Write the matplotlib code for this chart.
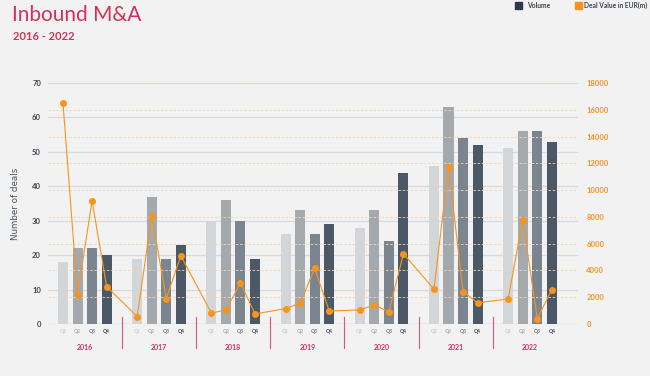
import numpy as np
import matplotlib.pyplot as plt
from matplotlib import transforms

# Dati
years = ['2016', '2017', '2018', '2019', '2020', '2021', '2022']
quarters = ['Q1', 'Q2', 'Q3', 'Q4']

# Numero di operazioni per trimestre (un elenco per trimestre, ordinato per anno)
vol_q1 = [18, 19, 30, 26, 28, 46, 51]
vol_q2 = [22, 37, 36, 33, 33, 63, 56]
vol_q3 = [22, 19, 30, 26, 24, 54, 56]
vol_q4 = [20, 23, 19, 29, 44, 52, 53]

# Valore delle operazioni in EUR(m), in ordine cronologico
deal_value = [16500, 2200, 9200, 2800,
              550, 8100, 1900, 5100,
              820, 1050, 3050, 750,
              1150, 1550, 4150, 970,
              1050, 1420, 900, 5250,
              2600, 11750, 2420, 1580,
              1870, 7800, 400, 2560]

# Stile
bg = '#f2f2f2'
crimson = '#d2325a'
orange = '#f7941d'
bar_colors = ['#d3d6d9', '#a4a9ae', '#7a8590', '#4b5866']
qlabel_colors = ['#c9cbce', '#a9adb2', '#6f7780', '#3b4450']

plt.rcParams['font.family'] = ['Lato', 'DejaVu Sans']

fig = plt.figure(figsize=(6.5, 3.76), dpi=100, facecolor=bg)
ax = fig.add_axes([48 / 650, 52 / 376, 530 / 650, 241 / 376], facecolor=bg)
ax2 = ax.twinx()

group_step = 5.1
width = 0.69
volumes = [vol_q1, vol_q2, vol_q3, vol_q4]

# Barre
for j in range(4):
    xs = [i * group_step + j for i in range(len(years))]
    ax.bar(xs, volumes[j], width=width, color=bar_colors[j], zorder=3)

# Linea del valore
x_line = [i * group_step + j for i in range(len(years)) for j in range(4)]
ax2.plot(x_line, deal_value, color=orange, lw=0.8, marker='o', ms=4,
         zorder=4, clip_on=False)

ax.set_xlim(-1.03, 35.4)
ax.set_ylim(0, 70)
ax2.set_ylim(0, 18000)

# Griglie
for v in range(10, 71, 10):
    ax.axhline(v, color='#d8dadd', lw=0.9, zorder=1)
ax.axhline(0, color='#cfd1d4', lw=1.0, zorder=1)
for v in range(2000, 18001, 2000):
    ax2.axhline(v, color='#f6d3ae', lw=0.6, ls=(0, (3, 2)), zorder=0)

ax.set_yticks(range(0, 71, 10))
ax2.set_yticks(range(0, 18001, 2000))
ax.tick_params(axis='y', length=0, pad=5, labelsize=5.5, labelcolor='#3b4450')
ax2.tick_params(axis='y', length=0, pad=6, labelsize=5.5, labelcolor=orange)
ax.set_xticks([])
for a in (ax, ax2):
    for s in a.spines.values():
        s.set_visible(False)
for lab in ax.get_yticklabels() + ax2.get_yticklabels():
    lab.set_fontweight('bold')

ax.set_ylabel('Number of deals', fontsize=6.3, color='#4b5560',
              labelpad=9, family='DejaVu Sans')

# Etichette trimestri e anni
trans = transforms.blended_transform_factory(ax.transData, ax.transAxes)
for i, yr in enumerate(years):
    for j, q in enumerate(quarters):
        ax.text(i * group_step + j, -0.022, q, transform=trans, ha='center',
                va='top', fontsize=3.6, color=qlabel_colors[j],
                fontweight='bold')
    ax.text(i * group_step + 1.5, -0.083, yr, transform=trans, ha='center',
            va='top', fontsize=5, color=crimson, fontweight='bold')
    if i < len(years) - 1:
        ax.plot([i * group_step + 4.05] * 2, [0.029, -0.1], transform=trans,
                color=crimson, lw=0.8, clip_on=False, alpha=0.8)

# Titolo
fig.text(12 / 650, 1 - 15 / 376, 'Inbound M&A', fontsize=15, color=crimson,
         fontweight='normal', va='center', ha='left')
fig.text(13 / 650, 1 - 37 / 376, '2016 - 2022', fontsize=8, color=crimson,
         fontweight='bold', va='center', ha='left')

# Legenda
fig.patches.append(plt.Rectangle((515 / 650, 1 - 9 / 376), 7 / 650, 7 / 376,
                                 transform=fig.transFigure, color='#2e3a48'))
fig.text(527 / 650, 1 - 5.5 / 376, 'Volume', fontsize=4.9, color='#3b4450',
         fontweight='bold', va='center')
fig.patches.append(plt.Rectangle((575 / 650, 1 - 9 / 376), 7 / 650, 7 / 376,
                                 transform=fig.transFigure, color=orange))
fig.text(584 / 650, 1 - 5.5 / 376, 'Deal Value in EUR(m)', fontsize=4.8,
         color='#3b4450', fontweight='bold', va='center')

fig.savefig('out.png', dpi=100, facecolor=bg)
